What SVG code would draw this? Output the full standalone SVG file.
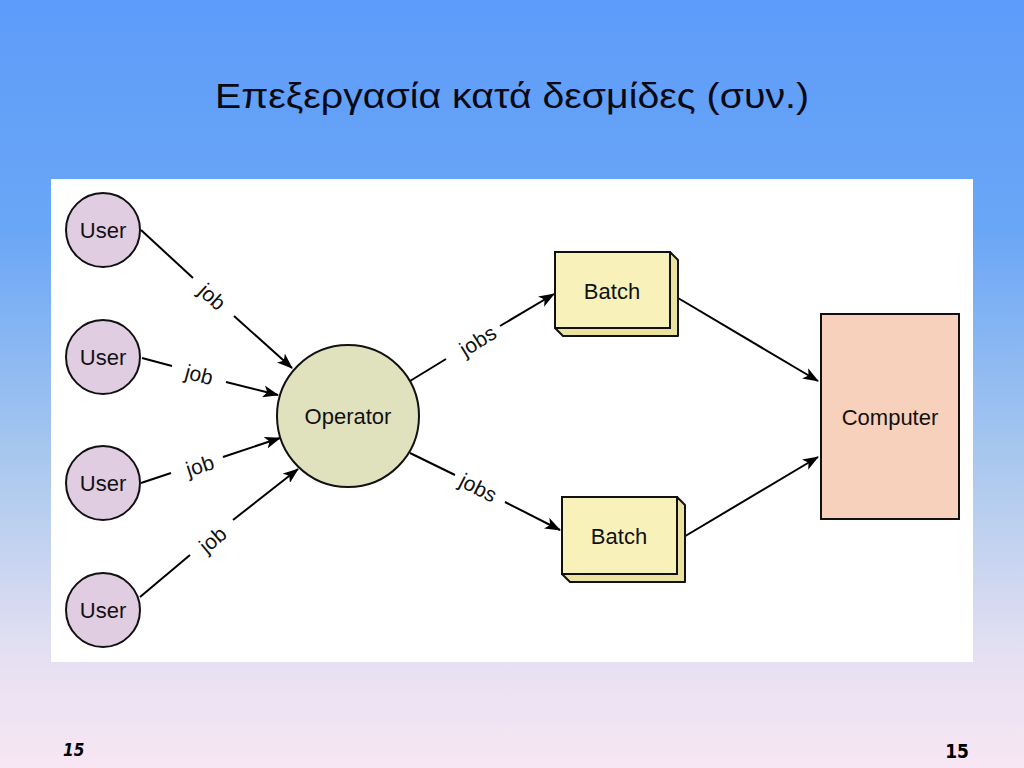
<svg xmlns="http://www.w3.org/2000/svg" width="1024" height="768" viewBox="0 0 1024 768">
<defs>
<linearGradient id="bg" x1="0" y1="0" x2="0" y2="1">
<stop offset="0" stop-color="#5d9cfa"/>
<stop offset="0.3" stop-color="#6aa6f6"/>
<stop offset="0.6" stop-color="#a9c8ee"/>
<stop offset="0.85" stop-color="#e4e0f2"/>
<stop offset="1" stop-color="#f8e6f4"/>
</linearGradient>
<marker id="ah" markerWidth="16" markerHeight="12" refX="15" refY="6" orient="auto" markerUnits="userSpaceOnUse">
<path d="M0,0 L16,6 L0,12 L4,6 z" fill="#000"/>
</marker>
</defs>
<style>
.lbl{font-family:"Liberation Sans",Arial,sans-serif;font-size:22px;fill:#111;text-anchor:middle}
.job{font-family:"Liberation Sans",Arial,sans-serif;font-size:21px;fill:#111;text-anchor:middle}
.user{fill:#e1cde1;stroke:#111;stroke-width:2}
.batch{fill:#f8f1ba;stroke:#111;stroke-width:2}
.batchside{fill:#ece2a0;stroke:#111;stroke-width:2;stroke-linejoin:round}
.ln{stroke:#000;stroke-width:2;fill:none}
.arr{stroke:#000;stroke-width:2;fill:none;marker-end:url(#ah)}
</style>
<rect x="0" y="0" width="1024" height="768" fill="url(#bg)"/>
<text x="512" y="108" font-family="'Liberation Sans',Arial,sans-serif" font-size="35" fill="#0a0a14" text-anchor="middle" textLength="594" lengthAdjust="spacingAndGlyphs">Επεξεργασία κατά δεσμίδες (συν.)</text>
<rect x="51" y="179" width="922" height="483" fill="#ffffff"/>

<g id="connectors">
<line class="ln" x1="141" y1="230" x2="193" y2="278"/>
<line class="arr" x1="234" y1="316" x2="292" y2="368"/>
<line class="ln" x1="142" y1="358" x2="172" y2="366"/>
<line class="arr" x1="226" y1="382" x2="278" y2="395"/>
<line class="ln" x1="141" y1="483" x2="171" y2="473"/>
<line class="arr" x1="223" y1="457" x2="280" y2="438"/>
<line class="ln" x1="140" y1="597" x2="190" y2="555"/>
<line class="arr" x1="233" y1="520" x2="298" y2="469"/>
<line class="ln" x1="410" y1="381" x2="446" y2="359"/>
<line class="arr" x1="500" y1="326" x2="554" y2="294"/>
<line class="ln" x1="410" y1="453" x2="455" y2="475"/>
<line class="arr" x1="505" y1="502" x2="560" y2="530"/>
<line class="arr" x1="678" y1="298" x2="818" y2="381"/>
<line class="arr" x1="682" y1="538" x2="818" y2="457"/>
<text class="job" x="212" y="304" transform="rotate(42 212 297)">job</text>
<text class="job" x="199" y="382" transform="rotate(15 199 375)">job</text>
<text class="job" x="200" y="473" transform="rotate(-18 200 466)">job</text>
<text class="job" x="213" y="547" transform="rotate(-40 213 540)">job</text>
<text class="job" x="478" y="348" transform="rotate(-32 478 341)">jobs</text>
<text class="job" x="478" y="495" transform="rotate(27 478 488)">jobs</text>
</g>

<g id="user1"><circle class="user" cx="103" cy="230" r="37"/><text class="lbl" x="103" y="238">User</text></g>
<g id="user2"><circle class="user" cx="103" cy="357" r="37"/><text class="lbl" x="103" y="365">User</text></g>
<g id="user3"><circle class="user" cx="103" cy="483" r="37"/><text class="lbl" x="103" y="491">User</text></g>
<g id="user4"><circle class="user" cx="103" cy="610" r="37"/><text class="lbl" x="103" y="618">User</text></g>

<g id="operator"><circle cx="348" cy="416" r="71" fill="#dfe2bd" stroke="#111" stroke-width="2"/><text class="lbl" x="348" y="424">Operator</text></g>

<g id="batch1">
<path class="batchside" d="M670,252 L678,260 L678,336 L563,336 L555,328 L670,328 Z"/>
<rect class="batch" x="555" y="252" width="115" height="76"/>
<text class="lbl" x="612" y="299">Batch</text>
</g>
<g id="batch2">
<path class="batchside" d="M677,497 L685,505 L685,582 L570,582 L562,574 L677,574 Z"/>
<rect class="batch" x="562" y="497" width="115" height="77"/>
<text class="lbl" x="619" y="544">Batch</text>
</g>

<g id="computer"><rect x="821" y="314" width="138" height="205" fill="#f8d1bc" stroke="#111" stroke-width="2"/><text class="lbl" x="890" y="425">Computer</text></g>

<text x="63" y="756" font-family="'DejaVu Sans Condensed','DejaVu Sans',sans-serif" font-size="17" font-weight="bold" font-style="italic" fill="#000">15</text>
<text x="969" y="758" font-family="'DejaVu Sans Condensed','DejaVu Sans',sans-serif" font-size="19" font-weight="bold" fill="#000" text-anchor="end">15</text>
</svg>
